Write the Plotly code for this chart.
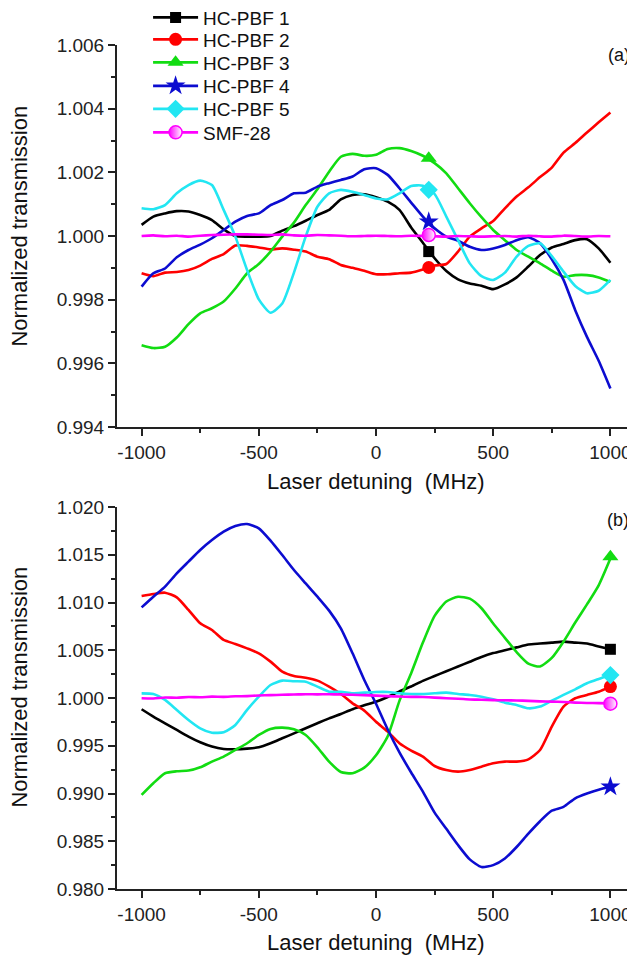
import plotly.graph_objects as go
from plotly.subplots import make_subplots

# ---------------- data ----------------
detuning = list(range(-1000, 1001, 50))  # MHz
series_names = ["HC-PBF 1", "HC-PBF 2", "HC-PBF 3", "HC-PBF 4", "HC-PBF 5", "SMF-28"]

# panel (a)
a_pbf1 = [1.00035, 1.00061, 1.00071, 1.00078, 1.00077, 1.00066, 1.0005, 1.00021, 1.0, 0.99998,
          0.99998, 1.0, 1.00017, 1.00031, 1.00048, 1.00066, 1.00082, 1.00115, 1.00129, 1.00131,
          1.00122, 1.00108, 1.00082, 1.00027, 0.99979, 0.9993, 0.9989, 0.99864, 0.99851, 0.99844,
          0.99833, 0.99848, 0.9987, 0.99904, 0.9994, 0.99964, 0.99975, 0.99987, 0.9999, 0.99961, 0.99916]
a_pbf2 = [0.99883, 0.99874, 0.99885, 0.99887, 0.99893, 0.99907, 0.99928, 0.99943, 0.9997, 0.99969,
          0.99964, 0.99958, 0.99961, 0.99957, 0.99951, 0.99935, 0.99927, 0.99909, 0.999, 0.99891,
          0.9988, 0.9988, 0.99883, 0.99885, 0.99895, 0.99907, 0.99912, 0.99951, 0.99998, 1.00024,
          1.00047, 1.00087, 1.00124, 1.00153, 1.00185, 1.00215, 1.00262, 1.00292, 1.00325, 1.00357, 1.00388]
a_pbf3 = [0.99657, 0.99648, 0.99652, 0.99681, 0.99723, 0.99757, 0.99773, 0.99794, 0.99835, 0.99883,
          0.99912, 0.99951, 0.99998, 1.00042, 1.00097, 1.00147, 1.00202, 1.00249, 1.00258, 1.00252,
          1.00255, 1.00273, 1.00276, 1.00267, 1.00252, 1.00229, 1.00197, 1.0015, 1.00103, 1.00059,
          1.00019, 0.99987, 0.99956, 0.99935, 0.99914, 0.99891, 0.99872, 0.99877, 0.99877, 0.9987, 0.99856]
a_pbf4 = [0.99841, 0.99883, 0.99898, 0.99933, 0.99956, 0.99973, 0.99993, 1.00019, 1.00045, 1.00063,
          1.00071, 1.00097, 1.00113, 1.00134, 1.00136, 1.00155, 1.00166, 1.00176, 1.00187, 1.0021,
          1.00213, 1.00192, 1.0015, 1.00105, 1.00061, 1.00024, 0.99998, 0.99985, 0.99966, 0.99956,
          0.99961, 0.99972, 0.99987, 0.99996, 0.99977, 0.99927, 0.99862, 0.99767, 0.99683, 0.99608, 0.99521]
a_pbf5 = [1.00087, 1.00084, 1.00097, 1.00134, 1.0016, 1.00174, 1.0016, 1.00082, 0.99998, 0.99893,
          0.99801, 0.99759, 0.99788, 0.99885, 0.99998, 1.00092, 1.00134, 1.00145, 1.00139, 1.00129,
          1.00118, 1.00115, 1.00134, 1.00157, 1.00158, 1.00132, 1.00061, 0.99987, 0.99914, 0.99874,
          0.99862, 0.99885, 0.99935, 0.99969, 0.99977, 0.99937, 0.99888, 0.99843, 0.9982, 0.99828, 0.99862]
a_smf = [1.0, 1.00002, 0.99999, 1.00001, 0.99998, 1.00001, 1.00003, 1.00004, 1.00005, 1.00005,
         1.00004, 1.00003, 1.00005, 1.00002, 1.00001, 1.00003, 1.00002, 1.00001, 0.99999, 1.0,
         1.00001, 1.0, 0.99999, 1.00001, 1.0, 0.99999, 0.99998, 1.0, 0.99999, 0.99998,
         0.99999, 1.0, 0.99998, 1.00001, 0.99999, 0.99998, 1.00001, 1.0, 0.99998, 1.0, 0.99999]
a_marker_x = 225
a_marker_vals = [0.99951, 0.99901, 1.00244, 1.00045, 1.00145, 1.00003]

# panel (b)
b_pbf1 = [0.99882, 0.99805, 0.99735, 0.99665, 0.99595, 0.99536, 0.99491, 0.99466, 0.99463, 0.9947,
          0.99484, 0.99526, 0.99578, 0.9963, 0.99683, 0.99735, 0.99787, 0.99833, 0.99882, 0.99923,
          0.9996, 1.0001, 1.0007, 1.0012, 1.0018, 1.0023, 1.0028, 1.0033, 1.0038, 1.0043,
          1.0047, 1.005, 1.0053, 1.0056, 1.0057, 1.0058, 1.0059, 1.0058, 1.0057, 1.0054, 1.0051]
b_pbf2 = [1.01068, 1.01089, 1.01103, 1.01054, 1.00922, 1.00782, 1.00712, 1.00608, 1.00566, 1.0052,
          1.00468, 1.00381, 1.00276, 1.00231, 1.00213, 1.00182, 1.00119, 1.00042, 0.99944, 0.99868,
          0.99752, 0.99648, 0.99526, 0.99449, 0.99386, 0.99288, 0.99246, 0.99229, 0.99246, 0.99281,
          0.99316, 0.99334, 0.99334, 0.99358, 0.99456, 0.997, 0.99909, 0.99997, 1.00032, 1.00066, 1.00119]
b_pbf3 = [0.98985, 0.99107, 0.99212, 0.99233, 0.9924, 0.99274, 0.99334, 0.99386, 0.99456, 0.99526,
          0.99613, 0.99676, 0.9969, 0.99672, 0.99613, 0.99484, 0.99334, 0.99225, 0.99212, 0.99271,
          0.994, 0.996, 0.9997, 1.0026, 1.0058, 1.0086, 1.0101, 1.0106, 1.0104, 1.0094,
          1.0078, 1.0063, 1.0048, 1.0036, 1.0033, 1.0042, 1.0059, 1.0079, 1.0098, 1.0118, 1.0146]
b_pbf4 = [1.00949, 1.01061, 1.01166, 1.01305, 1.01428, 1.0155, 1.01654, 1.01742, 1.01801, 1.01822,
          1.01777, 1.01648, 1.01497, 1.0134, 1.012, 1.01061, 1.00915, 1.0073, 1.00468, 1.00189,
          0.9994, 0.9967, 0.9943, 0.9922, 0.9902, 0.988, 0.9863, 0.9846, 0.9831, 0.9823,
          0.9825, 0.9832, 0.9844, 0.9858, 0.9871, 0.9882, 0.9886, 0.9895, 0.99, 0.9904, 0.9907]
b_pbf5 = [1.00049, 1.00042, 0.9998, 0.99875, 0.9977, 0.99683, 0.99637, 0.99641, 0.99718, 0.99875,
          1.00014, 1.00136, 1.00182, 1.00175, 1.00171, 1.00119, 1.00066, 1.00066, 1.00049, 1.00056,
          1.00063, 1.00063, 1.00049, 1.00042, 1.00042, 1.00049, 1.00056, 1.00042, 1.00032, 1.00014,
          0.99986, 0.99951, 0.99927, 0.99892, 0.9991, 0.99972, 1.00032, 1.00091, 1.00154, 1.00199, 1.00241]
b_smf = [0.99997, 0.99995, 1.00005, 1.00003, 1.0001, 1.00008, 1.00014, 1.00012, 1.00018, 1.0002,
         1.00026, 1.0003, 1.00034, 1.00036, 1.0004, 1.00038, 1.0004, 1.00036, 1.00034, 1.0003,
         1.00025, 1.0002, 1.00015, 1.00012, 1.0001, 1.00004, 0.99998, 0.99993, 0.99985, 0.99982,
         0.99978, 0.99976, 0.99974, 0.9997, 0.99965, 0.99962, 0.99958, 0.99952, 0.99948, 0.99946, 0.99944]
b_marker_x = 1000
b_marker_vals = [1.0051, 1.0012, 1.0148, 0.9907, 1.0024, 0.9994]

x_ticks = [-1000, -500, 0, 500, 1000]
x_ticklabels = ["-1000", "-500", "0", "500", "1000"]

# ---------------- styles ----------------
colors = ["#000000", "#ff0000", "#12dc12", "#0c0cd0", "#22e6f2", "#ff00ff"]
symbols = ["square", "circle", "triangle-up", "star", "diamond", "circle"]
msizes = [11, 13, 14, 15, 14, 13]
FONT = "Liberation Sans, Arial, sans-serif"
AX = "#222222"

fig = make_subplots(rows=2, cols=1, vertical_spacing=0.0)

a_series = [a_pbf1, a_pbf2, a_pbf3, a_pbf4, a_pbf5, a_smf]
b_series = [b_pbf1, b_pbf2, b_pbf3, b_pbf4, b_pbf5, b_smf]
legend_ids = ["legend", "legend2", "legend3", "legend4", "legend5", "legend6"]


def marker_style(i):
    m = dict(symbol=symbols[i], size=msizes[i], color=colors[i], line=dict(width=0))
    if i == 5:
        m = dict(symbol="circle", size=msizes[i], color=colors[i],
                 gradient=dict(type="horizontal", color="#ffffff"),
                 line=dict(width=1.5, color=colors[i]))
    return m


for row, series, mx, mvals, show in [(1, a_series, a_marker_x, a_marker_vals, True),
                                      (2, b_series, b_marker_x, b_marker_vals, False)]:
    for i, ys in enumerate(series):
        fig.add_trace(go.Scatter(x=detuning, y=ys, mode="lines",
                                 line=dict(color=colors[i], width=2.6, shape="spline", smoothing=0.6),
                                 showlegend=False, hoverinfo="skip"), row=row, col=1)
    for i, v in enumerate(mvals):
        fig.add_trace(go.Scatter(x=[mx], y=[v], mode="lines+markers", name=series_names[i],
                                 line=dict(color=colors[i], width=2.6),
                                 marker=marker_style(i), showlegend=show,
                                 legend=legend_ids[i]), row=row, col=1)

axis_common = dict(showline=True, linewidth=2, linecolor=AX, ticks="outside",
                   ticklen=7, tickwidth=2, tickcolor=AX, showgrid=False, zeroline=False,
                   tickfont=dict(family=FONT, size=19, color=AX), mirror=False)

fig.update_xaxes(range=[-1105, 1105], tickvals=x_ticks, ticktext=x_ticklabels,
                 minor=dict(ticks="outside", ticklen=4, tickwidth=2, tickcolor=AX, dtick=250, tick0=0),
                 **axis_common)
fig.update_yaxes(tickformat=".3f", **axis_common)

fig.update_layout(
    xaxis=dict(domain=[0, 1], anchor="y"),
    xaxis2=dict(domain=[0, 1], anchor="y2"),
    yaxis=dict(domain=[0.5474, 1.0], range=[0.994, 1.006], dtick=0.002, tick0=0.994,
               minor=dict(ticks="outside", ticklen=4, tickwidth=2, tickcolor=AX, dtick=0.001, tick0=0.994)),
    yaxis2=dict(domain=[0.0, 0.4526], range=[0.98, 1.02], dtick=0.005, tick0=0.98,
                minor=dict(ticks="outside", ticklen=4, tickwidth=2, tickcolor=AX, dtick=0.0025, tick0=0.98)),
)

title_font = dict(family=FONT, size=22, color="#111111")
annotations = [
    dict(text="Normalized transmission", x=-0.19, y=0.7855, xref="paper", yref="paper",
         textangle=-90, showarrow=False, font=title_font, xanchor="center", yanchor="middle"),
    dict(text="Normalized transmission", x=-0.19, y=0.2393, xref="paper", yref="paper",
         textangle=-90, showarrow=False, font=title_font, xanchor="center", yanchor="middle"),
    dict(text="Laser detuning\u00a0\u00a0(MHz)", x=0.5, y=0.4834, xref="paper", yref="paper",
         showarrow=False, font=title_font, xanchor="center", yanchor="middle"),
    dict(text="Laser detuning\u00a0\u00a0(MHz)", x=0.5, y=-0.0628, xref="paper", yref="paper",
         showarrow=False, font=title_font, xanchor="center", yanchor="middle"),
    dict(text="(a)", x=0.969, y=0.988, xref="paper", yref="paper", showarrow=False,
         font=dict(family=FONT, size=18, color="#111111"), xanchor="center", yanchor="middle"),
    dict(text="(b)", x=0.967, y=0.4372, xref="paper", yref="paper", showarrow=False,
         font=dict(family=FONT, size=18, color="#111111"), xanchor="center", yanchor="middle"),
]

legend_rows_y = [1.0325, 1.00652, 0.97927, 0.95142, 0.92417, 0.89633]
legend_layout = {}
for lid, ly in zip(legend_ids, legend_rows_y):
    legend_layout[lid] = dict(x=0.060, y=ly, xanchor="left", yanchor="middle",
                              bgcolor="rgba(0,0,0,0)", borderwidth=0, itemwidth=45,
                              font=dict(family=FONT, size=19, color="#111111"))

# the page body adds an 8 px offset; size the figure so the plot area lands where the reference has it
fig.update_layout(
    width=627, height=949,
    margin=dict(l=109, r=0, t=37, b=68, autoexpand=False),
    paper_bgcolor="white", plot_bgcolor="white",
    annotations=annotations,
    showlegend=True,
    **legend_layout,
)

fig.write_html("out.html")
